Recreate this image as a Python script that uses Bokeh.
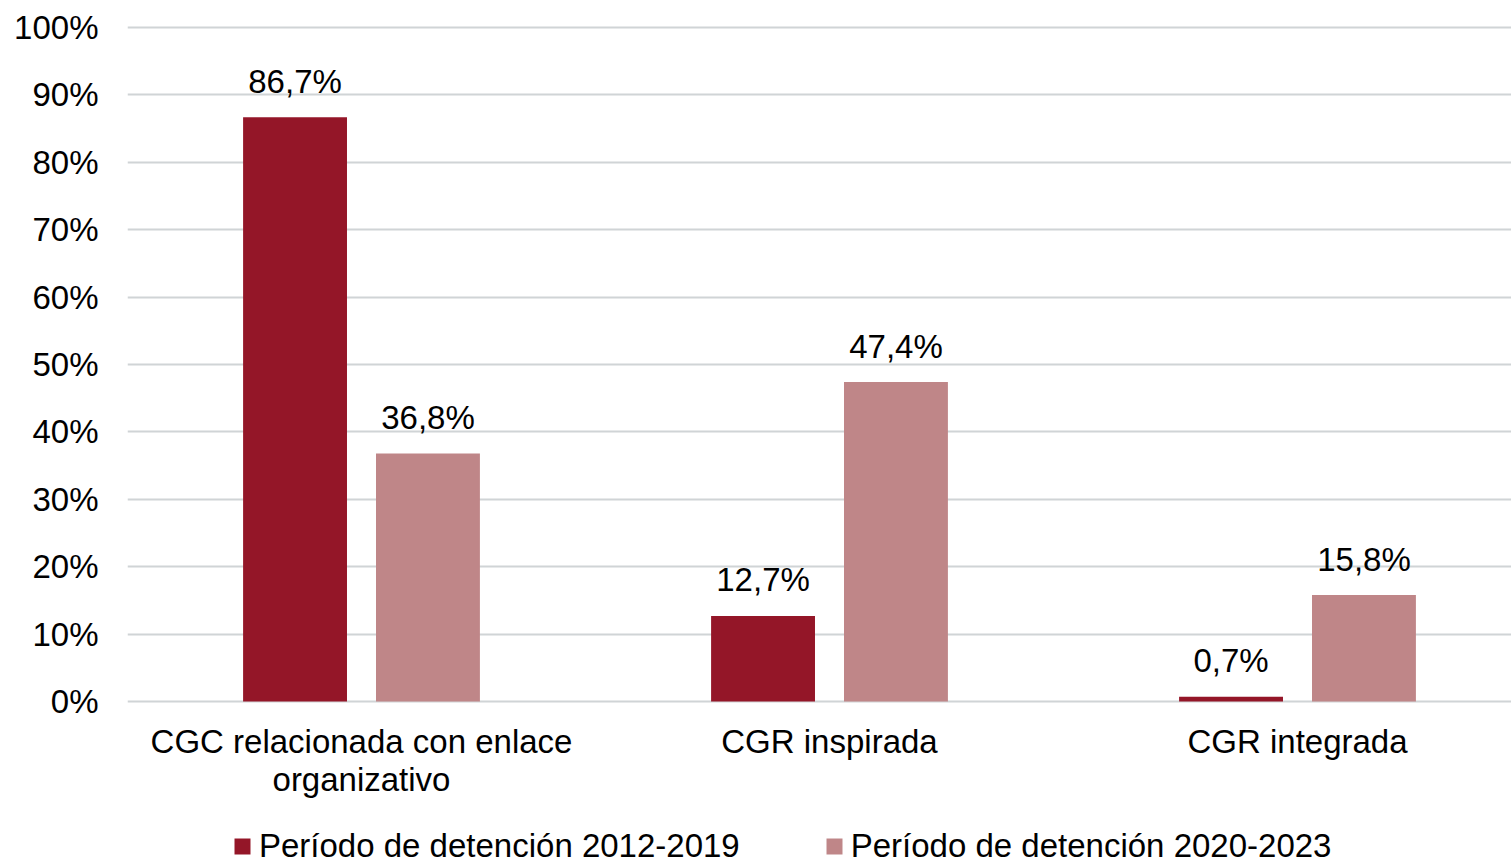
from bokeh.plotting import figure
from bokeh.models import FixedTicker, Legend, LegendItem, ColumnDataSource, Range1d
from bokeh.core.properties import value
from bokeh.embed import file_html
from bokeh.resources import INLINE

categories = ["CGC relacionada con enlace\norganizativo", "CGR inspirada", "CGR integrada"]
series_names = ["Período de detención 2012-2019", "Período de detención 2020-2023"]
values_2012_2019 = [86.7, 12.7, 0.7]
values_2020_2023 = [36.8, 47.4, 15.8]
labels_2012_2019 = ["86,7%", "12,7%", "0,7%"]
labels_2020_2023 = ["36,8%", "47,4%", "15,8%"]
y_ticks = [0, 10, 20, 30, 40, 50, 60, 70, 80, 90, 100]
y_tick_labels = [f"{t}%" for t in y_ticks]

COLOR_A = "#941628"
COLOR_B = "#BF8688"
FONT = "Liberation Sans"
FS = "33px"

W, H = 1511, 866
left, top = 127, 20
zero_px = 701
frame_w = W - left
cat_px = 468.0
px_per_unit = 6.74

centers = [i + 0.5 for i in range(len(categories))]
dodge = 0.142
bw = 0.222

src_a = ColumnDataSource(dict(x=[c - dodge for c in centers], top=values_2012_2019, lab=labels_2012_2019))
src_b = ColumnDataSource(dict(x=[c + dodge for c in centers], top=values_2020_2023, lab=labels_2020_2023))
src_cat = ColumnDataSource(dict(x=centers, y=[0] * len(centers), lab=categories))

p = figure(width=W, height=H, output_backend="svg", toolbar_location=None,
           x_range=Range1d(0, frame_w / cat_px),
           y_range=Range1d(-(H - zero_px) / px_per_unit, (zero_px - top) / px_per_unit),
           x_axis_location=None,
           min_border_left=left, min_border_top=top, min_border_bottom=0, min_border_right=0)
p.outline_line_color = None
p.background_fill_color = "white"

r1 = p.vbar(x="x", top="top", width=bw, source=src_a, fill_color=COLOR_A, line_color=None)
r2 = p.vbar(x="x", top="top", width=bw, source=src_b, fill_color=COLOR_B, line_color=None)
for s in (src_a, src_b):
    p.text(x="x", y="top", text="lab", source=s, text_align="center", text_baseline="alphabetic",
           y_offset=-36, text_font=value(FONT), text_font_size=FS, text_color="black")

p.text(x="x", y="y", text="lab", source=src_cat, text_align="center", text_baseline="top",
       y_offset=21, text_line_height=1.05, text_font=value(FONT), text_font_size=FS, text_color="black")

p.xgrid.grid_line_color = None
p.ygrid.grid_line_color = "#D0D4D6"
p.ygrid.grid_line_width = 2
p.yaxis.ticker = FixedTicker(ticks=y_ticks)
p.yaxis.major_label_overrides = {t: l for t, l in zip(y_ticks, y_tick_labels)}
p.yaxis.axis_line_color = None
p.yaxis.major_tick_line_color = None
p.yaxis.minor_tick_line_color = None
p.yaxis.major_label_text_font = FONT
p.yaxis.major_label_text_font_size = FS
p.yaxis.major_label_text_color = "black"
p.yaxis.major_label_standoff = 23

legend = Legend(items=[LegendItem(label=series_names[0], renderers=[r1]),
                       LegendItem(label=series_names[1], renderers=[r2])],
                orientation="horizontal", location=(105, 1),
                glyph_width=20, glyph_height=20, label_standoff=7, spacing=84,
                padding=0, margin=0, border_line_color=None, background_fill_alpha=0,
                label_text_font=FONT, label_text_font_size=FS, label_text_color="black")
p.add_layout(legend)

open("out.html", "w").write(file_html(p, INLINE))
